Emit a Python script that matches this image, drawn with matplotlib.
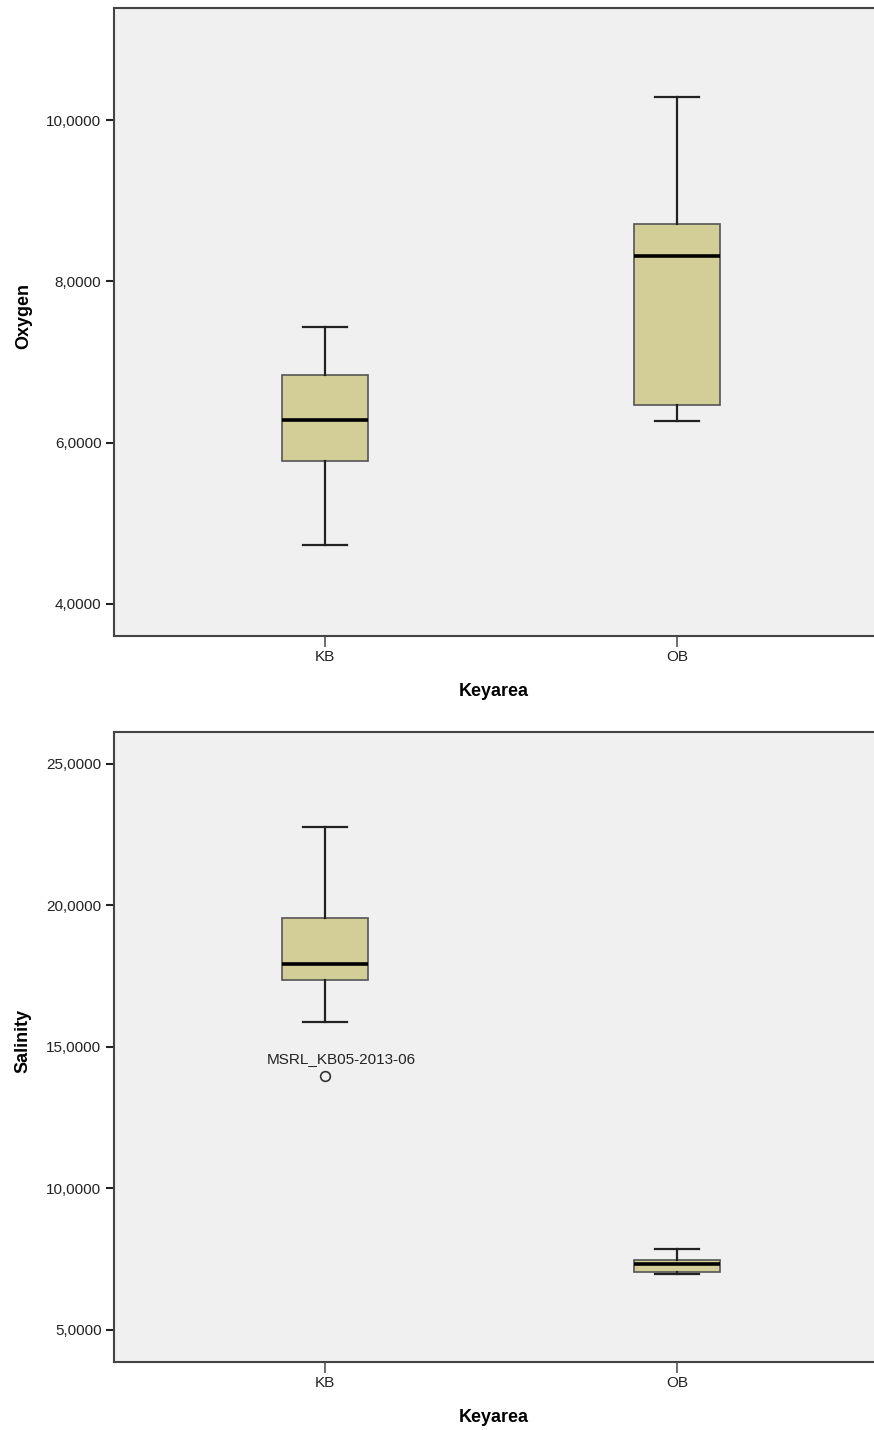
import matplotlib.pyplot as plt

plt.rcParams['font.family'] = ['Liberation Sans', 'DejaVu Sans']

# Keyarea categories
areas = ['KB', 'OB']

# Oxygen: box stats
oxy_whislo = [4.73, 6.27]
oxy_q1 = [5.77, 6.47]
oxy_med = [6.28, 8.31]
oxy_q3 = [6.84, 8.71]
oxy_whishi = [7.435, 10.285]
oxy_fliers = [[], []]

# Salinity
sal_whislo = [15.88, 6.99]
sal_q1 = [17.37, 7.06]
sal_med = [17.93, 7.32]
sal_q3 = [19.56, 7.47]
sal_whishi = [22.77, 7.87]
sal_fliers = [[13.98], []]
sal_flier_labels = [['MSRL_KB05-2013-06'], []]

oxy_ticks = [4, 6, 8, 10]
sal_ticks = [5, 10, 15, 20, 25]

box_color = '#d3ce98'
bg = '#f0f0f0'
spine_c = '#444444'


def make_stats(lo, q1, med, q3, hi, fl):
    out = []
    for i in range(len(lo)):
        out.append({'whislo': lo[i], 'q1': q1[i], 'med': med[i], 'q3': q3[i],
                    'whishi': hi[i], 'fliers': fl[i], 'label': areas[i]})
    return out


def fmt(v):
    return f'{v:.4f}'.replace('.', ',')


def draw(ax, stats, ylabel, ticks, ylim):
    ax.set_facecolor(bg)
    ax.bxp(stats, positions=[1, 2], widths=0.245, patch_artist=True,
           boxprops=dict(facecolor=box_color, edgecolor='#555555', linewidth=1.2),
           medianprops=dict(color='black', linewidth=2.6),
           whiskerprops=dict(color='#222222', linewidth=1.6),
           capprops=dict(color='#222222', linewidth=1.6),
           capwidths=0.125,
           flierprops=dict(marker='o', markerfacecolor='none', markeredgecolor='#333333',
                           markersize=7, markeredgewidth=1.2))
    ax.set_xlim(0.4, 2.56)
    ax.set_ylim(*ylim)
    ax.set_yticks(ticks)
    ax.set_yticklabels([fmt(t) for t in ticks])
    ax.set_xticks([1, 2])
    ax.set_xticklabels(areas)
    ax.tick_params(axis='y', direction='out', length=6, width=1.5, color='#222222',
                   labelsize=11, pad=3, labelcolor='#222222')
    ax.tick_params(axis='x', direction='out', length=8, width=1.2, color='#555555',
                   labelsize=11, pad=2, labelcolor='#222222')
    for s in ['left', 'bottom', 'top']:
        ax.spines[s].set_color(spine_c)
        ax.spines[s].set_linewidth(1.5)
    ax.spines['right'].set_visible(False)
    ax.set_ylabel(ylabel, fontsize=13, fontweight='bold')
    ax.yaxis.set_label_coords(-0.108, 0.51)
    ax.set_xlabel('Keyarea', fontsize=13, fontweight='bold', labelpad=14)


fig = plt.figure(figsize=(8.74, 14.3), dpi=100)
ax1 = fig.add_axes([0.1304, 0.5552, 0.8696, 0.4392])
ax2 = fig.add_axes([0.1304, 0.0476, 0.8696, 0.4406])

draw(ax1, make_stats(oxy_whislo, oxy_q1, oxy_med, oxy_q3, oxy_whishi, oxy_fliers),
     'Oxygen', oxy_ticks, (3.60, 11.39))
draw(ax2, make_stats(sal_whislo, sal_q1, sal_med, sal_q3, sal_whishi, sal_fliers),
     'Salinity', sal_ticks, (3.87, 26.13))

# outlier case label
for i, (vals, labs) in enumerate(zip(sal_fliers, sal_flier_labels)):
    for v, lab in zip(vals, labs):
        ax2.annotate(lab, (i + 1, v), xytext=(12, 7), textcoords='offset points',
                     ha='center', va='bottom', fontsize=11, color='#222222')

fig.savefig('out.png', dpi=100)
